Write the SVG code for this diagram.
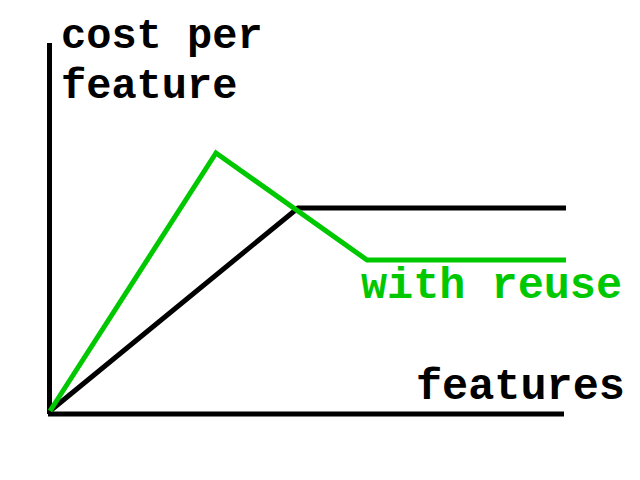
<svg xmlns="http://www.w3.org/2000/svg" width="640" height="480" viewBox="0 0 640 480">
<style>
.t{font-family:"Liberation Mono","Courier New",monospace;font-weight:bold;font-size:42px}
.b{font-size:43.5px}
.ax{stroke:#000;stroke-width:5;fill:none}
.ln{stroke-width:5;fill:none;stroke-linejoin:miter}
</style>
<rect width="640" height="480" fill="#fff"/>
<g id="axes">
<path class="ax" d="M49.5,43 V414 M48,414 H564"/>
</g>
<g id="connectors">
<path class="ln" stroke="#000" d="M50,411 L298,208 H566"/>
<path class="ln" stroke="#00c800" d="M50,411 L216,153 L367,260 H566"/>
</g>
<g id="labels">
<text class="t" x="61" y="48" fill="#000">cost per</text>
<text class="t" x="61" y="98" fill="#000">feature</text>
<text class="t b" x="416" y="399" fill="#000">features</text>
<text class="t b" x="361" y="298" fill="#00c800">with reuse</text>
</g>
</svg>
